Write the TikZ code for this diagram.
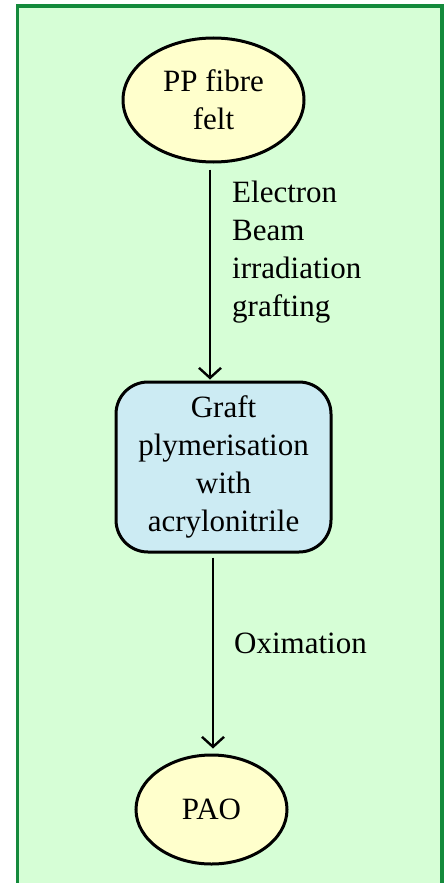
\documentclass[tikz,border=0pt]{standalone}
\usepackage{fontspec}
\setmainfont{Liberation Serif}
\usetikzlibrary{shapes.geometric,arrows.meta}
\definecolor{framegreen}{RGB}{20,138,60}
\definecolor{bggreen}{RGB}{214,254,214}
\definecolor{feltyellow}{RGB}{255,255,204}
\definecolor{graftblue}{RGB}{204,235,243}
\tikzset{
  big/.style={font=\fontsize{31}{38}\selectfont},
  material/.style={big, ellipse, draw, line width=3pt, fill=feltyellow, align=center, inner sep=0pt},
  process/.style={big, rectangle, rounded corners=32pt, draw, line width=3pt, fill=graftblue, align=center,
    minimum width=215pt, minimum height=170pt, inner sep=0pt},
  flow/.style={line width=2.4pt, -{Straight Barb[length=10pt,width=22pt]}},
  steplabel/.style={big, align=left, inner sep=0pt, anchor=west}
}
\begin{document}
\begin{tikzpicture}[x=1pt, y=1pt]
    \useasboundingbox (0,0) rectangle (444,-883);
    \draw[framegreen, line width=3.5pt, fill=bggreen] (17.5,-6) rectangle (442,-900);
    % materials and process
    \node[material, minimum width=181pt, minimum height=124pt] (pp) at (213.5,-100) {PP fibre\\felt};
    \node[process] (gp) at (223.5,-467) {Graft\\plymerisation\\with\\acrylonitrile};
    \node[material, minimum width=151pt, minimum height=109pt] (pao) at (211.5,-809.5) {PAO};
    % steps
    \draw[flow, shorten <=6pt, shorten >=1pt] ([xshift=-3.5pt]pp.south) -- node[steplabel, pos=.41, xshift=21pt]{Electron\\Beam\\irradiation\\grafting} ([xshift=-3.5pt]pp.south |- gp.north);
    \draw[flow, shorten <=4pt, shorten >=5pt] ([xshift=1.5pt]pao.north |- gp.south) -- node[steplabel, pos=.45, xshift=20pt]{Oximation} ([xshift=1.5pt]pao.north);
\end{tikzpicture}
\end{document}
